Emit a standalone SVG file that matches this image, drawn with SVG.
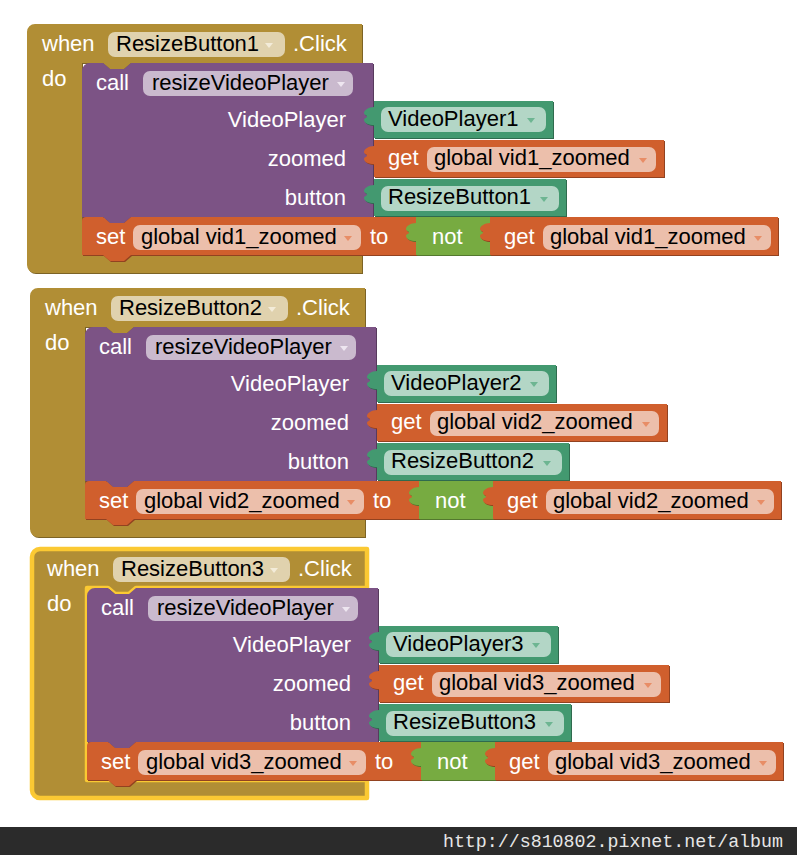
<svg xmlns="http://www.w3.org/2000/svg" xmlns:xlink="http://www.w3.org/1999/xlink" width="797" height="855" viewBox="0 0 797 855">
<style>
text{font-family:"Liberation Sans",Arial,sans-serif;font-size:22px}
.w{fill:#fff}
.k{fill:#000}
.gold{fill:#B18E35}.goldS{fill:#7C6325}
.purp{fill:#7C5385}.purpS{fill:#573A5D}
.oran{fill:#D05F2D}.oranS{fill:#924220}
.comp{fill:#439970}.compS{fill:#2F6B4E}
.logic{fill:#77AB41}.logicS{fill:#53782E}
.fld{fill:#fff;fill-opacity:0.6}
.aG{fill:#F3ECD9}.aP{fill:#EEE6F0}.aC{fill:#6DB592}.aO{fill:#E88D66}
.sel{fill:none;stroke:#FBC933;stroke-width:4.5;stroke-linejoin:round}
.url{font-family:"Liberation Mono","Courier New",monospace;font-size:18.3px;fill:#E6E6E6}
</style>
<defs>
<path id="pEv" d="M27,32 A8,8 0 0 1 35,24 H362 V63 H131 l-7,6 -14,0 -7,-6 H82 V255 H362 V273 H35 A8,8 0 0 1 27,265 Z"/>
<path id="pCall" d="M82,71 A8,8 0 0 1 90,63 H103 l7,6 14,0 7,-6 H373 V217 H131 l-7,6 -14,0 -7,-6 H82 Z"/>
<path id="pSet" d="M82,221 A4,4 0 0 1 86,217 H103 l7,6 14,0 7,-6 H416 V255 H131 l-7,6 -14,0 -7,-6 H82 Z"/>
<path id="pVp" d="M374,101 H553 V138 H374 V125 c-5,0 -10,-2 -10,-5 c0,-2 3,-2 3,-3.5 c0,-1.5 -3,-1.5 -3,-3.5 c0,-3 5,-6 10,-6 Z"/>
<path id="pGet1" d="M374,140 H664 V177 H374 V164 c-5,0 -10,-2 -10,-5 c0,-2 3,-2 3,-3.5 c0,-1.5 -3,-1.5 -3,-3.5 c0,-3 5,-6 10,-6 Z"/>
<path id="pRb" d="M374,179 H566 V216 H374 V203 c-5,0 -10,-2 -10,-5 c0,-2 3,-2 3,-3.5 c0,-1.5 -3,-1.5 -3,-3.5 c0,-3 5,-6 10,-6 Z"/>
<path id="pNot" d="M416,217 H490 V255 H416 V241 c-5,0 -10,-2 -10,-5 c0,-2 3,-2 3,-3.5 c0,-1.5 -3,-1.5 -3,-3.5 c0,-3 5,-6 10,-6 Z"/>
<path id="pGet2" d="M490,217 H778 V255 H490 V241 c-5,0 -10,-2 -10,-5 c0,-2 3,-2 3,-3.5 c0,-1.5 -3,-1.5 -3,-3.5 c0,-3 5,-6 10,-6 Z"/>
<path id="arr" d="M-4,-2 H4 L0,3 Z"/>
</defs>
<rect width="797" height="855" fill="#fff"/>

<!-- Event block 1 -->
<g id="event1">
  <g id="event1-when">
    <use xlink:href="#pEv" class="goldS" transform="translate(1,1)"/>
    <use xlink:href="#pEv" class="gold"/>
    <text x="42" y="51" class="w">when</text>
    <rect x="108" y="32" width="177" height="25" rx="7" class="fld"/>
    <text x="116" y="51" class="k">ResizeButton1</text>
    <use xlink:href="#arr" class="aG" x="269" y="45"/>
    <text x="293" y="51" class="w">.Click</text>
    <text x="42" y="86" class="w">do</text>
  </g>
  <g id="event1-call">
    <use xlink:href="#pCall" class="purpS" transform="translate(1,1)"/>
    <use xlink:href="#pCall" class="purp"/>
    <text x="96" y="90" class="w">call</text>
    <rect x="143" y="71" width="210" height="25" rx="7" class="fld"/>
    <text x="152" y="90" class="k">resizeVideoPlayer</text>
    <use xlink:href="#arr" class="aP" x="341" y="84"/>
    <text x="346" y="127" class="w" text-anchor="end">VideoPlayer</text>
    <text x="346" y="166" class="w" text-anchor="end">zoomed</text>
    <text x="346" y="205" class="w" text-anchor="end">button</text>
  </g>
  <g id="event1-videoplayer">
    <use xlink:href="#pVp" class="compS" transform="translate(1,1)"/>
    <use xlink:href="#pVp" class="comp"/>
    <rect x="381" y="107" width="165" height="25" rx="7" class="fld"/>
    <text x="388" y="126" class="k">VideoPlayer1</text>
    <use xlink:href="#arr" class="aC" x="531" y="120"/>
  </g>
  <g id="event1-get-zoomed">
    <use xlink:href="#pGet1" class="oranS" transform="translate(1,1)"/>
    <use xlink:href="#pGet1" class="oran"/>
    <text x="388" y="165" class="w">get</text>
    <rect x="427" y="147" width="229" height="25" rx="7" class="fld"/>
    <text x="434" y="165" class="k">global vid1_zoomed</text>
    <use xlink:href="#arr" class="aO" x="643" y="160"/>
  </g>
  <g id="event1-button">
    <use xlink:href="#pRb" class="compS" transform="translate(1,1)"/>
    <use xlink:href="#pRb" class="comp"/>
    <rect x="381" y="186" width="178" height="25" rx="7" class="fld"/>
    <text x="388" y="204" class="k">ResizeButton1</text>
    <use xlink:href="#arr" class="aC" x="544" y="199"/>
  </g>
  <g id="event1-set">
    <use xlink:href="#pSet" class="oranS" transform="translate(1,1)"/>
    <use xlink:href="#pSet" class="oran"/>
    <text x="96" y="244" class="w">set</text>
    <rect x="133" y="225" width="228" height="25" rx="7" class="fld"/>
    <text x="141" y="244" class="k">global vid1_zoomed</text>
    <use xlink:href="#arr" class="aO" x="348" y="238"/>
    <text x="370" y="244" class="w">to</text>
  </g>
  <g id="event1-not">
    <use xlink:href="#pNot" class="logicS" transform="translate(1,1)"/>
    <use xlink:href="#pNot" class="logic"/>
    <text x="432" y="244" class="w">not</text>
  </g>
  <g id="event1-get-not">
    <use xlink:href="#pGet2" class="oranS" transform="translate(1,1)"/>
    <use xlink:href="#pGet2" class="oran"/>
    <text x="504" y="244" class="w">get</text>
    <rect x="543" y="225" width="228" height="25" rx="7" class="fld"/>
    <text x="550" y="244" class="k">global vid1_zoomed</text>
    <use xlink:href="#arr" class="aO" x="758" y="238"/>
  </g>
</g>

<!-- Event block 2 -->
<g id="event2" transform="translate(3,264)">
  <g id="event2-when">
    <use xlink:href="#pEv" class="goldS" transform="translate(1,1)"/>
    <use xlink:href="#pEv" class="gold"/>
    <text x="42" y="51" class="w">when</text>
    <rect x="108" y="32" width="177" height="25" rx="7" class="fld"/>
    <text x="116" y="51" class="k">ResizeButton2</text>
    <use xlink:href="#arr" class="aG" x="269" y="45"/>
    <text x="293" y="51" class="w">.Click</text>
    <text x="42" y="86" class="w">do</text>
  </g>
  <g id="event2-call">
    <use xlink:href="#pCall" class="purpS" transform="translate(1,1)"/>
    <use xlink:href="#pCall" class="purp"/>
    <text x="96" y="90" class="w">call</text>
    <rect x="143" y="71" width="210" height="25" rx="7" class="fld"/>
    <text x="152" y="90" class="k">resizeVideoPlayer</text>
    <use xlink:href="#arr" class="aP" x="341" y="84"/>
    <text x="346" y="127" class="w" text-anchor="end">VideoPlayer</text>
    <text x="346" y="166" class="w" text-anchor="end">zoomed</text>
    <text x="346" y="205" class="w" text-anchor="end">button</text>
  </g>
  <g id="event2-videoplayer">
    <use xlink:href="#pVp" class="compS" transform="translate(1,1)"/>
    <use xlink:href="#pVp" class="comp"/>
    <rect x="381" y="107" width="165" height="25" rx="7" class="fld"/>
    <text x="388" y="126" class="k">VideoPlayer2</text>
    <use xlink:href="#arr" class="aC" x="531" y="120"/>
  </g>
  <g id="event2-get-zoomed">
    <use xlink:href="#pGet1" class="oranS" transform="translate(1,1)"/>
    <use xlink:href="#pGet1" class="oran"/>
    <text x="388" y="165" class="w">get</text>
    <rect x="427" y="147" width="229" height="25" rx="7" class="fld"/>
    <text x="434" y="165" class="k">global vid2_zoomed</text>
    <use xlink:href="#arr" class="aO" x="643" y="160"/>
  </g>
  <g id="event2-button">
    <use xlink:href="#pRb" class="compS" transform="translate(1,1)"/>
    <use xlink:href="#pRb" class="comp"/>
    <rect x="381" y="186" width="178" height="25" rx="7" class="fld"/>
    <text x="388" y="204" class="k">ResizeButton2</text>
    <use xlink:href="#arr" class="aC" x="544" y="199"/>
  </g>
  <g id="event2-set">
    <use xlink:href="#pSet" class="oranS" transform="translate(1,1)"/>
    <use xlink:href="#pSet" class="oran"/>
    <text x="96" y="244" class="w">set</text>
    <rect x="133" y="225" width="228" height="25" rx="7" class="fld"/>
    <text x="141" y="244" class="k">global vid2_zoomed</text>
    <use xlink:href="#arr" class="aO" x="348" y="238"/>
    <text x="370" y="244" class="w">to</text>
  </g>
  <g id="event2-not">
    <use xlink:href="#pNot" class="logicS" transform="translate(1,1)"/>
    <use xlink:href="#pNot" class="logic"/>
    <text x="432" y="244" class="w">not</text>
  </g>
  <g id="event2-get-not">
    <use xlink:href="#pGet2" class="oranS" transform="translate(1,1)"/>
    <use xlink:href="#pGet2" class="oran"/>
    <text x="504" y="244" class="w">get</text>
    <rect x="543" y="225" width="228" height="25" rx="7" class="fld"/>
    <text x="550" y="244" class="k">global vid2_zoomed</text>
    <use xlink:href="#arr" class="aO" x="758" y="238"/>
  </g>
</g>

<!-- Event block 3 (selected) -->
<g id="event3" transform="translate(5,525)">
  <g id="event3-when">
    <use xlink:href="#pEv" class="goldS" transform="translate(1,1)"/>
    <use xlink:href="#pEv" class="gold"/>
    <use xlink:href="#pEv" class="sel"/>
    <text x="42" y="51" class="w">when</text>
    <rect x="108" y="32" width="177" height="25" rx="7" class="fld"/>
    <text x="116" y="51" class="k">ResizeButton3</text>
    <use xlink:href="#arr" class="aG" x="269" y="45"/>
    <text x="293" y="51" class="w">.Click</text>
    <text x="42" y="86" class="w">do</text>
  </g>
  <g id="event3-call">
    <use xlink:href="#pCall" class="purpS" transform="translate(1,1)"/>
    <use xlink:href="#pCall" class="purp"/>
    <text x="96" y="90" class="w">call</text>
    <rect x="143" y="71" width="210" height="25" rx="7" class="fld"/>
    <text x="152" y="90" class="k">resizeVideoPlayer</text>
    <use xlink:href="#arr" class="aP" x="341" y="84"/>
    <text x="346" y="127" class="w" text-anchor="end">VideoPlayer</text>
    <text x="346" y="166" class="w" text-anchor="end">zoomed</text>
    <text x="346" y="205" class="w" text-anchor="end">button</text>
  </g>
  <g id="event3-videoplayer">
    <use xlink:href="#pVp" class="compS" transform="translate(1,1)"/>
    <use xlink:href="#pVp" class="comp"/>
    <rect x="381" y="107" width="165" height="25" rx="7" class="fld"/>
    <text x="388" y="126" class="k">VideoPlayer3</text>
    <use xlink:href="#arr" class="aC" x="531" y="120"/>
  </g>
  <g id="event3-get-zoomed">
    <use xlink:href="#pGet1" class="oranS" transform="translate(1,1)"/>
    <use xlink:href="#pGet1" class="oran"/>
    <text x="388" y="165" class="w">get</text>
    <rect x="427" y="147" width="229" height="25" rx="7" class="fld"/>
    <text x="434" y="165" class="k">global vid3_zoomed</text>
    <use xlink:href="#arr" class="aO" x="643" y="160"/>
  </g>
  <g id="event3-button">
    <use xlink:href="#pRb" class="compS" transform="translate(1,1)"/>
    <use xlink:href="#pRb" class="comp"/>
    <rect x="381" y="186" width="178" height="25" rx="7" class="fld"/>
    <text x="388" y="204" class="k">ResizeButton3</text>
    <use xlink:href="#arr" class="aC" x="544" y="199"/>
  </g>
  <g id="event3-set">
    <use xlink:href="#pSet" class="oranS" transform="translate(1,1)"/>
    <use xlink:href="#pSet" class="oran"/>
    <text x="96" y="244" class="w">set</text>
    <rect x="133" y="225" width="228" height="25" rx="7" class="fld"/>
    <text x="141" y="244" class="k">global vid3_zoomed</text>
    <use xlink:href="#arr" class="aO" x="348" y="238"/>
    <text x="370" y="244" class="w">to</text>
  </g>
  <g id="event3-not">
    <use xlink:href="#pNot" class="logicS" transform="translate(1,1)"/>
    <use xlink:href="#pNot" class="logic"/>
    <text x="432" y="244" class="w">not</text>
  </g>
  <g id="event3-get-not">
    <use xlink:href="#pGet2" class="oranS" transform="translate(1,1)"/>
    <use xlink:href="#pGet2" class="oran"/>
    <text x="504" y="244" class="w">get</text>
    <rect x="543" y="225" width="228" height="25" rx="7" class="fld"/>
    <text x="550" y="244" class="k">global vid3_zoomed</text>
    <use xlink:href="#arr" class="aO" x="758" y="238"/>
  </g>
</g>

<g id="watermark">
  <rect x="0" y="827" width="797" height="28" fill="#2B2B2B"/>
  <text x="783" y="847" class="url" text-anchor="end">http://s810802.pixnet.net/album</text>
</g>
</svg>
